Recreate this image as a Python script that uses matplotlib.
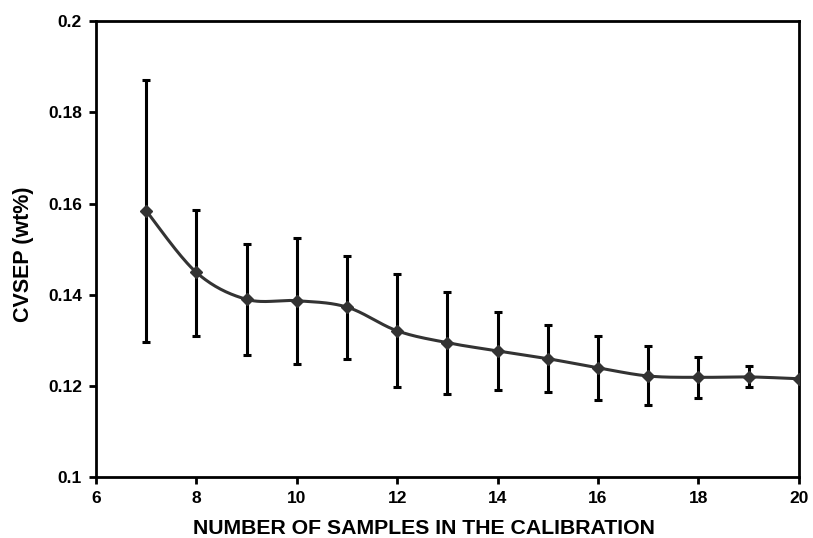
import numpy as np
import matplotlib
matplotlib.use("Agg")
import matplotlib.pyplot as plt
from matplotlib.ticker import FixedLocator, FuncFormatter

plt.rcParams['font.family'] = ['Liberation Sans', 'DejaVu Sans']
plt.rcParams['font.weight'] = 'bold'

# Calibration set size vs. cross-validated standard error of prediction
n_samples = [7, 8, 9, 10, 11, 12, 13, 14, 15, 16, 17, 18, 19, 20]
cvsep = [0.1584, 0.1449, 0.1390, 0.1387, 0.1373, 0.1321, 0.1295, 0.1277,
         0.1260, 0.1240, 0.1222, 0.1219, 0.1220, 0.1216]
err_upper = [0.1871, 0.1585, 0.1512, 0.1525, 0.1486, 0.1446, 0.1406, 0.1363,
             0.1333, 0.1310, 0.1287, 0.1264, 0.1243, None]
err_lower = [0.1297, 0.1310, 0.1268, 0.1249, 0.1260, 0.1197, 0.1182, 0.1192,
             0.1187, 0.1169, 0.1158, 0.1174, 0.1197, None]

x_ticks = [6, 8, 10, 12, 14, 16, 18, 20]
y_ticks = [0.1, 0.12, 0.14, 0.16, 0.18, 0.2]


def smooth_curve(xs, ys, steps=30):
    """Catmull-Rom style smoothing through the data points."""
    xs = np.asarray(xs, float)
    ys = np.asarray(ys, float)
    px = np.concatenate([[xs[0]], xs, [xs[-1]]])
    py = np.concatenate([[ys[0]], ys, [ys[-1]]])
    out_x, out_y = [], []
    for i in range(1, len(px) - 2):
        p0x, p1x, p2x, p3x = px[i - 1], px[i], px[i + 1], px[i + 2]
        p0y, p1y, p2y, p3y = py[i - 1], py[i], py[i + 1], py[i + 2]
        c1x = p1x + (p2x - p0x) / 6
        c1y = p1y + (p2y - p0y) / 6
        c2x = p2x - (p3x - p1x) / 6
        c2y = p2y - (p3y - p1y) / 6
        t = np.linspace(0, 1, steps)
        bx = ((1 - t) ** 3 * p1x + 3 * (1 - t) ** 2 * t * c1x
              + 3 * (1 - t) * t ** 2 * c2x + t ** 3 * p2x)
        by = ((1 - t) ** 3 * p1y + 3 * (1 - t) ** 2 * t * c1y
              + 3 * (1 - t) * t ** 2 * c2y + t ** 3 * p2y)
        out_x.extend(bx)
        out_y.extend(by)
    return np.array(out_x), np.array(out_y)


fig = plt.figure(figsize=(8.13, 5.38), dpi=100)
ax = fig.add_axes([96 / 813, 1 - 477.3 / 538, (798.7 - 96) / 813, (477.3 - 21) / 538])

# error bars
for xv, yc, hi, lo in zip(n_samples, cvsep, err_upper, err_lower):
    if hi is None:
        continue
    ax.errorbar([xv], [yc], yerr=[[yc - lo], [hi - yc]], fmt='none',
                ecolor='black', elinewidth=2.2, capsize=3, capthick=2.2, zorder=2)

sx, sy = smooth_curve(n_samples, cvsep)
ax.plot(sx, sy, color='#333333', lw=2.2, zorder=3, solid_capstyle='round')
ax.plot(n_samples, cvsep, linestyle='none', marker='D', markersize=6.5,
        color='#333333', zorder=4)

ax.set_xlim(6, 20)
ax.set_ylim(0.1, 0.2)
ax.xaxis.set_major_locator(FixedLocator(x_ticks))
ax.yaxis.set_major_locator(FixedLocator(y_ticks))
ax.yaxis.set_major_formatter(FuncFormatter(lambda v, p: f"{v:g}"))

for s in ax.spines.values():
    s.set_linewidth(2.0)
    s.set_color('black')
ax.tick_params(direction='out', length=5, width=2, labelsize=12.5, pad=5)
for lab in ax.get_xticklabels() + ax.get_yticklabels():
    lab.set_fontweight('bold')

fig.text(423.5 / 813, 1 - 528 / 538, 'NUMBER OF SAMPLES IN THE CALIBRATION',
         fontsize=15.3, fontweight='bold', ha='center', va='center')
fig.text(24 / 813, 1 - 254 / 538, 'CVSEP (wt%)', fontsize=15.5, fontweight='bold',
         rotation=90, ha='center', va='center')

fig.savefig('out.png', dpi=100)
